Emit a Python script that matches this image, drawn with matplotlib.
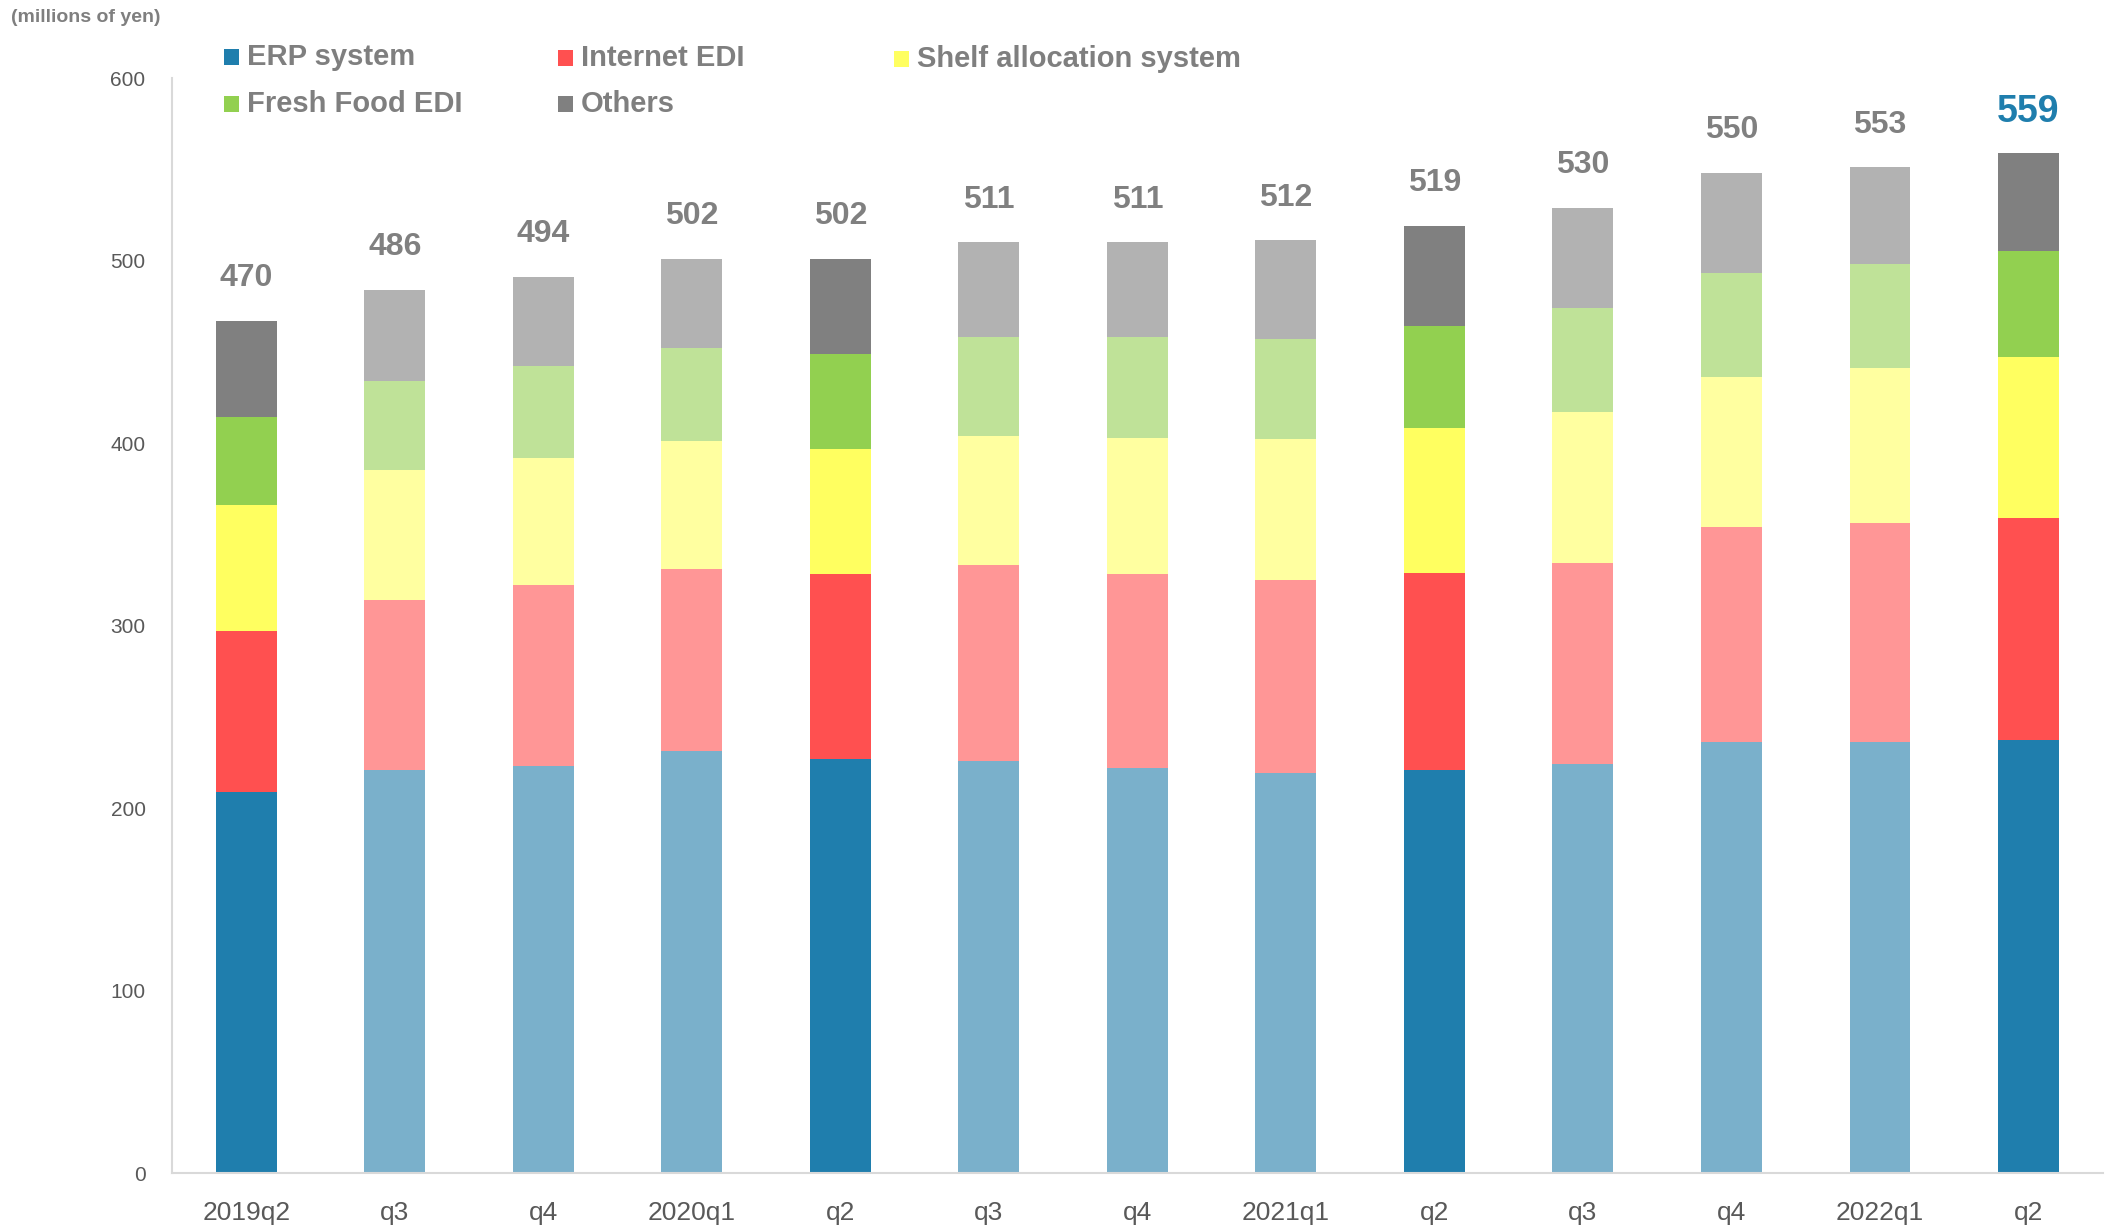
import matplotlib
matplotlib.use("Agg")
import matplotlib.pyplot as plt
from matplotlib.patches import Rectangle
import numpy as np

categories = ["2019q2", "q3", "q4", "2020q1", "q2", "q3", "q4", "2021q1", "q2", "q3", "q4", "2022q1", "q2"]
erp = [209, 221, 223, 231, 227, 226, 222, 219, 221, 224, 236, 236, 237]
internet_edi = [88, 93, 99, 100, 101, 107, 106, 106, 108, 110, 118, 120, 122]
shelf = [69, 71, 70, 70, 69, 71, 75, 77, 79, 83, 82, 85, 88]
fresh = [48, 49, 50, 51, 52, 54, 55, 55, 56, 57, 57, 57, 58]
others = [53, 50, 49, 49, 52, 52, 52, 54, 55, 55, 55, 53, 54]
totals_labels = [470, 486, 494, 502, 502, 511, 511, 512, 519, 530, 550, 553, 559]
highlight = [True, False, False, False, True, False, False, False, True, False, False, False, True]

series_names = ["ERP system", "Internet EDI", "Shelf allocation system", "Fresh Food EDI", "Others"]
dark_colors = ["#1F7EAD", "#FF5050", "#FFFF60", "#92D050", "#808080"]
light_colors = ["#7AB0CB", "#FF9696", "#FFFFA0", "#BFE298", "#B2B2B2"]

fig = plt.figure(figsize=(21.07, 12.27), dpi=100)
ax = fig.add_axes([0.0816, 0.044, 0.9164, 0.8924])

x = np.arange(len(categories))
bottom = np.zeros(len(categories))
for vals, dc, lc in zip([erp, internet_edi, shelf, fresh, others], dark_colors, light_colors):
    cols = [dc if h else lc for h in highlight]
    ax.bar(x, vals, width=0.41, bottom=bottom, color=cols, linewidth=0)
    bottom = bottom + np.array(vals)

n = len(categories)
for i, (top, lab) in enumerate(zip(bottom, totals_labels)):
    last = (i == n - 1)
    col = "#1F7EAD" if last else "#808080"
    ax.text(x[i], top + (17 if last else 19), str(lab), ha="center", va="baseline",
            fontsize=27 if last else 23, fontweight="bold", color=col,
            family=["Liberation Sans", "DejaVu Sans"])

ax.set_xlim(-0.5, 12.5)
ax.set_ylim(0, 600)
ax.set_yticks(np.arange(0, 601, 100))
ax.set_xticks(x)
ax.set_xticklabels(categories)
for s in ["top", "right"]:
    ax.spines[s].set_visible(False)
for s in ["left", "bottom"]:
    ax.spines[s].set_color("#D9D9D9")
    ax.spines[s].set_linewidth(1.5)
ax.tick_params(axis="x", length=0, pad=20, labelsize=19, labelcolor="#595959")
ax.tick_params(axis="y", length=0, pad=19, labelsize=15, labelcolor="#595959")
for t in ax.get_xticklabels() + ax.get_yticklabels():
    t.set_family(["Liberation Sans", "DejaVu Sans"])

fig.text(0.005, 1 - 17 / 1227, "(millions of yen)", ha="left", va="center",
         fontsize=14, fontweight="bold", color="#7F7F7F", family=["Liberation Sans", "DejaVu Sans"])

# legend drawn manually
W, H = 2107.0, 1227.0
leg_pos = [(224, 57), (558, 58), (894, 59), (224, 104), (558, 104)]
for (px, py), k in zip(leg_pos, range(len(series_names))):
    fig.patches.append(Rectangle((px / W, 1 - (py + 8) / H), 15 / W, 16 / H,
                                 transform=fig.transFigure, color=dark_colors[k], linewidth=0))
    fig.text((px + 23) / W, 1 - py / H, series_names[k], ha="left", va="center",
             fontsize=21, fontweight="bold", color="#7F7F7F", family=["Liberation Sans", "DejaVu Sans"])

fig.savefig("out.png", dpi=100)
